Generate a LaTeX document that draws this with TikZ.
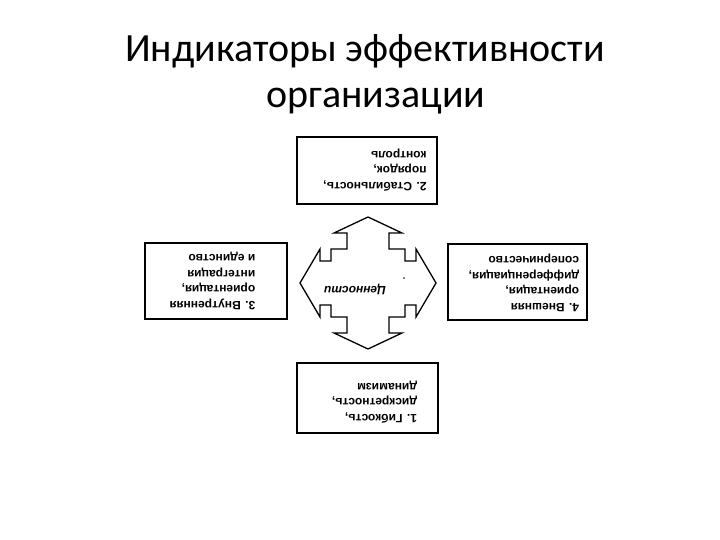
\documentclass[tikz,border=0pt]{standalone}
\usepackage{fontspec}
\setmainfont{Liberation Sans}
\newfontfamily\titlefont{Carlito}
\usetikzlibrary{positioning,calc}

\begin{document}
\begin{tikzpicture}[x=1pt,y=1pt,
  every node/.style={font=\fontsize{12}{15.5}\selectfont\bfseries},
  ttl/.style={font=\titlefont\fontsize{40}{46}\selectfont,anchor=base},
  box/.style={draw,line width=1.4pt,minimum width=140pt,minimum height=68pt,inner sep=0pt},
  txt/.style={rotate=180,align=left,inner sep=0pt},
  arm/.style={draw,line width=1.3pt,line join=miter},
]
\useasboundingbox (0,0) rectangle (720,-540);

%% Title
\node[ttl] (title)  at (365,-62)  {Индикаторы эффективности};
\node[ttl] (title2) at (376,-108) {организации};

%% Four boxes (whole scheme is printed upside down)
\node[box,minimum height=67pt] (b2) at (367,-170.5) {};
\node[box,minimum width=142pt,minimum height=76pt] (b3) at (216,-281) {};
\node[box,minimum width=139pt,minimum height=76pt] (b4) at (517.5,-282) {};
\node[box,minimum width=141pt,minimum height=70pt] (b1) at (367.5,-398) {};

\node[txt] (t2) at (375,-170)   {2. Стабильность,\\порядок,\\контроль};
\node[txt] (t3) at (212.5,-281) {3. Внутренняя\\ориентация,\\интеграция\\и единство};
\node[txt] (t4) at (524,-283)   {4. Внешняя\\ориентация,\\дифференциация,\\соперничество};
\node[txt] (t1) at (374.5,-402) {1. Гибкость,\\дискретность,\\динамизм};

%% Four-way arrow in the middle
\begin{scope}[shift={(368,-283)}]
\draw[arm] (0,66) -- (34,50) -- (21,50) -- (21,34) -- (37,34) -- (37,22) -- (48,22) -- (48,34)
  -- (68,0) -- (48,-34) -- (48,-22) -- (37,-22) -- (37,-34) -- (21,-34) -- (21,-50) -- (34,-50)
  -- (0,-66) -- (-34,-50) -- (-21,-50) -- (-21,-34) -- (-37,-34) -- (-37,-22) -- (-48,-22) -- (-48,-34)
  -- (-68,0) -- (-48,34) -- (-48,22) -- (-37,22) -- (-37,34) -- (-21,34) -- (-21,50) -- (-34,50) -- cycle;
\end{scope}
\node[txt,font=\fontsize{12}{15}\selectfont\bfseries\itshape] (val) at (355,-289) {Ценности};
\fill (404,-278) circle (0.8pt);

\end{tikzpicture}
\end{document}
